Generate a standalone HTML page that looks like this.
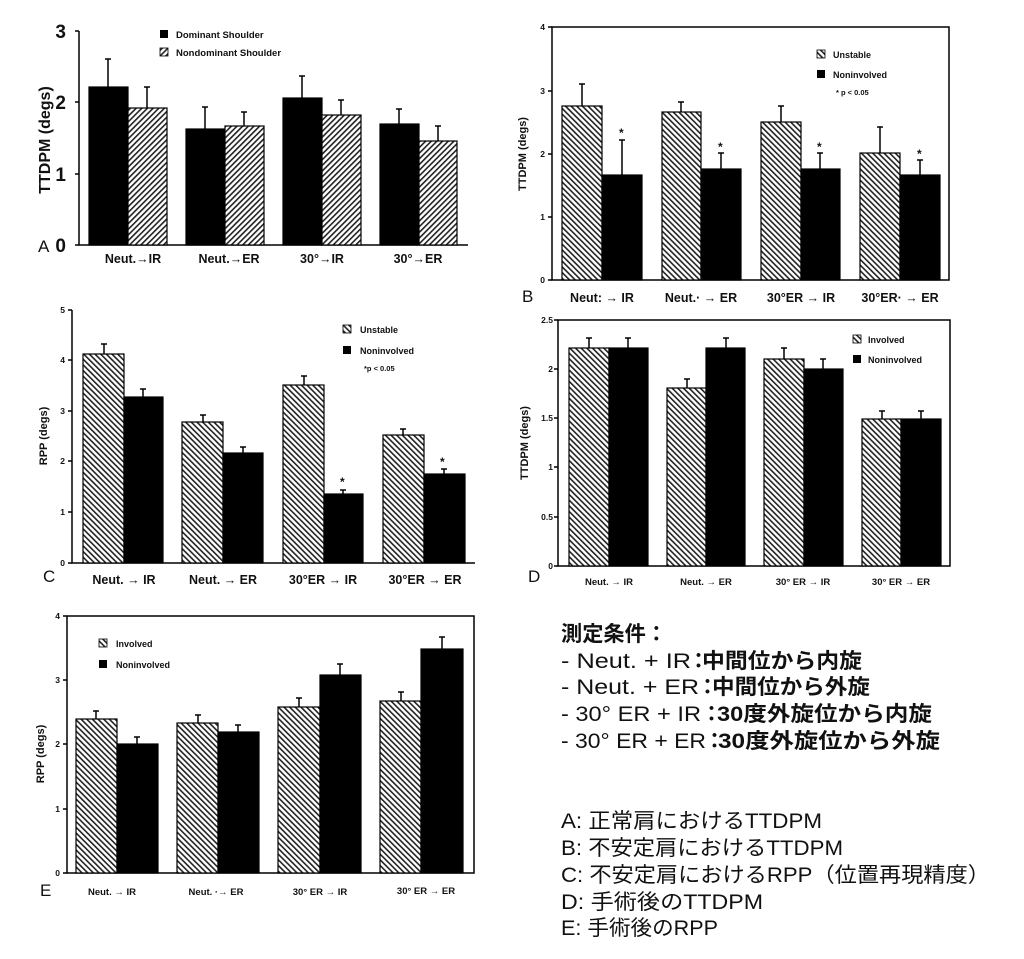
<!DOCTYPE html>
<html><head><meta charset="utf-8"><style>
html,body{margin:0;padding:0;background:#fff;}
svg{display:block;font-family:"Liberation Sans",Arial,sans-serif;}
.t{font-weight:bold;fill:#111;}
.jp{font-family:"Liberation Sans","Noto Sans CJK JP",sans-serif;fill:#111;}
</style></head><body>
<svg width="1024" height="959" viewBox="0 0 1024 959" xmlns="http://www.w3.org/2000/svg">
<defs>
<pattern id="hf" width="4" height="4" patternUnits="userSpaceOnUse" patternTransform="rotate(45)">
<rect width="4" height="4" fill="#fff"/><rect width="1.6" height="4" fill="#222"/></pattern>
<pattern id="hb" width="4" height="4" patternUnits="userSpaceOnUse" patternTransform="rotate(-45)">
<rect width="4" height="4" fill="#fff"/><rect width="1.6" height="4" fill="#222"/></pattern>
</defs>
<g stroke="#000" stroke-width="1.5" fill="none">
<path d="M79 31V245H468"/>
<path d="M75 31h4M75 102h4M75 174h4M75 245h4"/>
<rect x="552" y="27" width="397" height="253"/>
<path d="M548 27h4M548 91h4M548 154h4M548 217h4M548 280h4"/>
<path d="M72 310V563H475"/>
<path d="M68 310h4M68 360h4M68 411h4M68 461h4M68 512h4M68 563h4"/>
<rect x="558" y="320" width="392" height="246"/>
<path d="M554 320h4M554 369h4M554 418h4M554 467h4M554 517h4M554 566h4"/>
<rect x="67" y="616" width="407" height="257"/>
<path d="M63 616h4M63 680h4M63 744h4M63 809h4M63 873h4"/>
</g>

<!-- A bars -->
<g stroke="#000" stroke-width="1.2">
<rect x="89" y="87" width="39" height="158" fill="#000"/><rect x="128" y="108" width="39" height="137" fill="url(#hf)"/>
<rect x="186" y="129" width="39" height="116" fill="#000"/><rect x="225" y="126" width="39" height="119" fill="url(#hf)"/>
<rect x="283" y="98" width="39" height="147" fill="#000"/><rect x="322" y="115" width="39" height="130" fill="url(#hf)"/>
<rect x="380" y="124" width="39" height="121" fill="#000"/><rect x="419" y="141" width="38" height="104" fill="url(#hf)"/>
</g>
<g stroke="#000" stroke-width="1.5" fill="none">
<path d="M108 87V59M105 59h6M147 108V87M144 87h6M205 129V107M202 107h6M244 126V112M241 112h6M302 98V76M299 76h6M341 115V100M338 100h6M399 124V109M396 109h6M438 141V126M435 126h6"/>
</g>
<text class="t" x="66" y="38" font-size="19" text-anchor="end">3</text>
<text class="t" x="66" y="109" font-size="19" text-anchor="end">2</text>
<text class="t" x="66" y="181" font-size="19" text-anchor="end">1</text>
<text class="t" x="66" y="252" font-size="19" text-anchor="end">0</text>
<text x="38" y="252" font-size="17" fill="#111">A</text>
<text class="t" transform="translate(50,140) rotate(-90)" font-size="16" text-anchor="middle">TTDPM  (degs)</text>
<rect x="160" y="30" width="8" height="8" fill="#000"/><rect x="160" y="48" width="8" height="8" fill="url(#hf)" stroke="#000" stroke-width="0.8"/>
<text class="t" x="176" y="38" font-size="9.5">Dominant  Shoulder</text>
<text class="t" x="176" y="56" font-size="9.5">Nondominant  Shoulder</text>
<text class="t" x="133" y="263" font-size="12.5" text-anchor="middle">Neut.→IR</text>
<text class="t" x="229" y="263" font-size="12.5" text-anchor="middle">Neut.→ER</text>
<text class="t" x="322" y="263" font-size="12.5" text-anchor="middle">30°→IR</text>
<text class="t" x="418" y="263" font-size="12.5" text-anchor="middle">30°→ER</text>

<!-- B bars -->
<g stroke="#000" stroke-width="1.2">
<rect x="562" y="106" width="40" height="174" fill="url(#hb)"/><rect x="602" y="175" width="40" height="105" fill="#000"/>
<rect x="662" y="112" width="39" height="168" fill="url(#hb)"/><rect x="701" y="169" width="40" height="111" fill="#000"/>
<rect x="761" y="122" width="40" height="158" fill="url(#hb)"/><rect x="801" y="169" width="39" height="111" fill="#000"/>
<rect x="860" y="153" width="40" height="127" fill="url(#hb)"/><rect x="900" y="175" width="40" height="105" fill="#000"/>
</g>
<g stroke="#000" stroke-width="1.5" fill="none">
<path d="M582 106V84M579 84h6M622 175V140M619 140h6M681 112V102M678 102h6M721 169V153M718 153h6M781 122V106M778 106h6M820 169V153M817 153h6M880 153V127M877 127h6M920 175V160M917 160h6"/>
</g>
<g class="t" font-size="12"><text x="619" y="137">*</text><text x="718" y="151">*</text><text x="817" y="151">*</text><text x="917" y="158">*</text></g>
<g class="t" font-size="8.5" text-anchor="end"><text x="545" y="30">4</text><text x="545" y="94">3</text><text x="545" y="157">2</text><text x="545" y="220">1</text><text x="545" y="283">0</text></g>
<text x="522" y="302" font-size="17" fill="#111">B</text>
<text class="t" transform="translate(526,154) rotate(-90)" font-size="11" text-anchor="middle">TTDPM (degs)</text>
<rect x="817" y="50" width="8" height="8" fill="url(#hb)" stroke="#000" stroke-width="0.8"/><rect x="817" y="70" width="8" height="8" fill="#000"/>
<text class="t" x="833" y="58" font-size="9">Unstable</text>
<text class="t" x="833" y="78" font-size="9">Noninvolved</text>
<text class="t" x="836" y="95" font-size="7.5">* p &lt; 0.05</text>
<text class="t" x="602" y="302" font-size="12.5" text-anchor="middle">Neut: → IR</text>
<text class="t" x="701" y="302" font-size="12.5" text-anchor="middle">Neut.· → ER</text>
<text class="t" x="801" y="302" font-size="12.5" text-anchor="middle">30°ER → IR</text>
<text class="t" x="900" y="302" font-size="12.5" text-anchor="middle">30°ER· → ER</text>

<!-- C bars -->
<g stroke="#000" stroke-width="1.2">
<rect x="83" y="354" width="41" height="209" fill="url(#hb)"/><rect x="124" y="397" width="39" height="166" fill="#000"/>
<rect x="182" y="422" width="41" height="141" fill="url(#hb)"/><rect x="223" y="453" width="40" height="110" fill="#000"/>
<rect x="283" y="385" width="41" height="178" fill="url(#hb)"/><rect x="324" y="494" width="39" height="69" fill="#000"/>
<rect x="383" y="435" width="41" height="128" fill="url(#hb)"/><rect x="424" y="474" width="41" height="89" fill="#000"/>
</g>
<g stroke="#000" stroke-width="1.5" fill="none">
<path d="M104 354V344M101 344h6M143 397V389M140 389h6M203 422V415M200 415h6M243 453V447M240 447h6M304 385V376M301 376h6M343 494V490M340 490h6M403 435V429M400 429h6M444 474V469M441 469h6"/>
</g>
<g class="t" font-size="12"><text x="340" y="486">*</text><text x="440" y="466">*</text></g>
<g class="t" font-size="8.5" text-anchor="end"><text x="65" y="313">5</text><text x="65" y="363">4</text><text x="65" y="414">3</text><text x="65" y="464">2</text><text x="65" y="515">1</text><text x="65" y="566">0</text></g>
<text x="43" y="582" font-size="17" fill="#111">C</text>
<text class="t" transform="translate(47,436) rotate(-90)" font-size="11" text-anchor="middle">RPP (degs)</text>
<rect x="343" y="325" width="8" height="8" fill="url(#hb)" stroke="#000" stroke-width="0.8"/><rect x="343" y="346" width="8" height="8" fill="#000"/>
<text class="t" x="360" y="333" font-size="9">Unstable</text>
<text class="t" x="360" y="354" font-size="9">Noninvolved</text>
<text class="t" x="364" y="371" font-size="7.5">*p  &lt;  0.05</text>
<text class="t" x="124" y="584" font-size="12.5" text-anchor="middle">Neut. → IR</text>
<text class="t" x="223" y="584" font-size="12.5" text-anchor="middle">Neut. → ER</text>
<text class="t" x="323" y="584" font-size="12.5" text-anchor="middle">30°ER → IR</text>
<text class="t" x="425" y="584" font-size="12.5" text-anchor="middle">30°ER → ER</text>

<!-- D bars -->
<g stroke="#000" stroke-width="1.2">
<rect x="569" y="348" width="40" height="218" fill="url(#hb)"/><rect x="609" y="348" width="39" height="218" fill="#000"/>
<rect x="667" y="388" width="39" height="178" fill="url(#hb)"/><rect x="706" y="348" width="39" height="218" fill="#000"/>
<rect x="764" y="359" width="40" height="207" fill="url(#hb)"/><rect x="804" y="369" width="39" height="197" fill="#000"/>
<rect x="862" y="419" width="39" height="147" fill="url(#hb)"/><rect x="901" y="419" width="40" height="147" fill="#000"/>
</g>
<g stroke="#000" stroke-width="1.5" fill="none">
<path d="M589 348V338M586 338h6M628 348V338M625 338h6M687 388V379M684 379h6M726 348V338M723 338h6M784 359V348M781 348h6M823 369V359M820 359h6M882 419V411M879 411h6M921 419V411M918 411h6"/>
</g>
<g class="t" font-size="8.5" text-anchor="end"><text x="553" y="323">2.5</text><text x="553" y="372">2</text><text x="553" y="421">1.5</text><text x="553" y="470">1</text><text x="553" y="520">0.5</text><text x="553" y="569">0</text></g>
<text x="528" y="582" font-size="17" fill="#111">D</text>
<text class="t" transform="translate(528,443) rotate(-90)" font-size="11" text-anchor="middle">TTDPM (degs)</text>
<rect x="853" y="335" width="8" height="8" fill="url(#hb)" stroke="#000" stroke-width="0.8"/><rect x="853" y="355" width="8" height="8" fill="#000"/>
<text class="t" x="868" y="343" font-size="9">Involved</text>
<text class="t" x="868" y="363" font-size="9">Noninvolved</text>
<g class="t" font-size="9.5" text-anchor="middle"><text x="609" y="585">Neut.  →  IR</text><text x="706" y="585">Neut.  → ER</text><text x="803" y="585">30°  ER → IR</text><text x="901" y="585">30°  ER → ER</text></g>

<!-- E bars -->
<g stroke="#000" stroke-width="1.2">
<rect x="76" y="719" width="41" height="154" fill="url(#hb)"/><rect x="117" y="744" width="41" height="129" fill="#000"/>
<rect x="177" y="723" width="41" height="150" fill="url(#hb)"/><rect x="218" y="732" width="41" height="141" fill="#000"/>
<rect x="278" y="707" width="42" height="166" fill="url(#hb)"/><rect x="320" y="675" width="41" height="198" fill="#000"/>
<rect x="380" y="701" width="41" height="172" fill="url(#hb)"/><rect x="421" y="649" width="42" height="224" fill="#000"/>
</g>
<g stroke="#000" stroke-width="1.5" fill="none">
<path d="M96 719V711M93 711h6M137 744V737M134 737h6M198 723V715M195 715h6M238 732V725M235 725h6M299 707V698M296 698h6M340 675V664M337 664h6M401 701V692M398 692h6M442 649V637M439 637h6"/>
</g>
<g class="t" font-size="8.5" text-anchor="end"><text x="60" y="619">4</text><text x="60" y="683">3</text><text x="60" y="747">2</text><text x="60" y="812">1</text><text x="60" y="876">0</text></g>
<text x="40" y="896" font-size="17" fill="#111">E</text>
<text class="t" transform="translate(44,754) rotate(-90)" font-size="11" text-anchor="middle">RPP (degs)</text>
<rect x="99" y="639" width="8" height="8" fill="url(#hb)" stroke="#000" stroke-width="0.8"/><rect x="99" y="660" width="8" height="8" fill="#000"/>
<text class="t" x="116" y="647" font-size="9">Involved</text>
<text class="t" x="116" y="668" font-size="9">Noninvolved</text>
<g class="t" font-size="9.5" text-anchor="middle"><text x="112" y="895">Neut.  → IR</text><text x="216" y="895">Neut. ·→ ER</text><text x="320" y="895">30°  ER → IR</text><text x="426" y="894">30°  ER → ER</text></g>

<!-- Japanese text -->
<g class="jp" font-size="21">
<text x="561" y="641" font-weight="bold" textLength="106" lengthAdjust="spacingAndGlyphs">測定条件：</text>

<text x="561" y="668" textLength="130" lengthAdjust="spacingAndGlyphs">- Neut. + IR</text>
<text x="688" y="668" font-weight="bold">：</text>
<text x="702" y="668" font-weight="bold" textLength="160" lengthAdjust="spacingAndGlyphs">中間位から内旋</text>

<text x="561" y="694" textLength="138" lengthAdjust="spacingAndGlyphs">- Neut. + ER</text>
<text x="697" y="694" font-weight="bold">：</text>
<text x="712" y="694" font-weight="bold" textLength="158" lengthAdjust="spacingAndGlyphs">中間位から外旋</text>

<text x="561" y="721" textLength="140" lengthAdjust="spacingAndGlyphs">- 30°  ER + IR</text>
<text x="701" y="721" font-weight="bold">：</text>
<text x="717" y="721" font-weight="bold" textLength="215" lengthAdjust="spacingAndGlyphs">30度外旋位から内旋</text>

<text x="561" y="748" textLength="145" lengthAdjust="spacingAndGlyphs">- 30°  ER + ER</text>
<text x="704" y="748" font-weight="bold">：</text>
<text x="718" y="748" font-weight="bold" textLength="222" lengthAdjust="spacingAndGlyphs">30度外旋位から外旋</text>
</g>
<g class="jp" font-size="21">
<text x="561" y="828" textLength="261" lengthAdjust="spacingAndGlyphs">A: 正常肩におけるTTDPM</text>
<text x="561" y="855" textLength="282" lengthAdjust="spacingAndGlyphs">B: 不安定肩におけるTTDPM</text>
<text x="561" y="882" textLength="429" lengthAdjust="spacingAndGlyphs">C: 不安定肩におけるRPP（位置再現精度）</text>
<text x="561" y="909" textLength="202" lengthAdjust="spacingAndGlyphs">D: 手術後のTTDPM</text>
<text x="561" y="935" textLength="157" lengthAdjust="spacingAndGlyphs">E: 手術後のRPP</text>
</g>
</svg>
</body></html>
